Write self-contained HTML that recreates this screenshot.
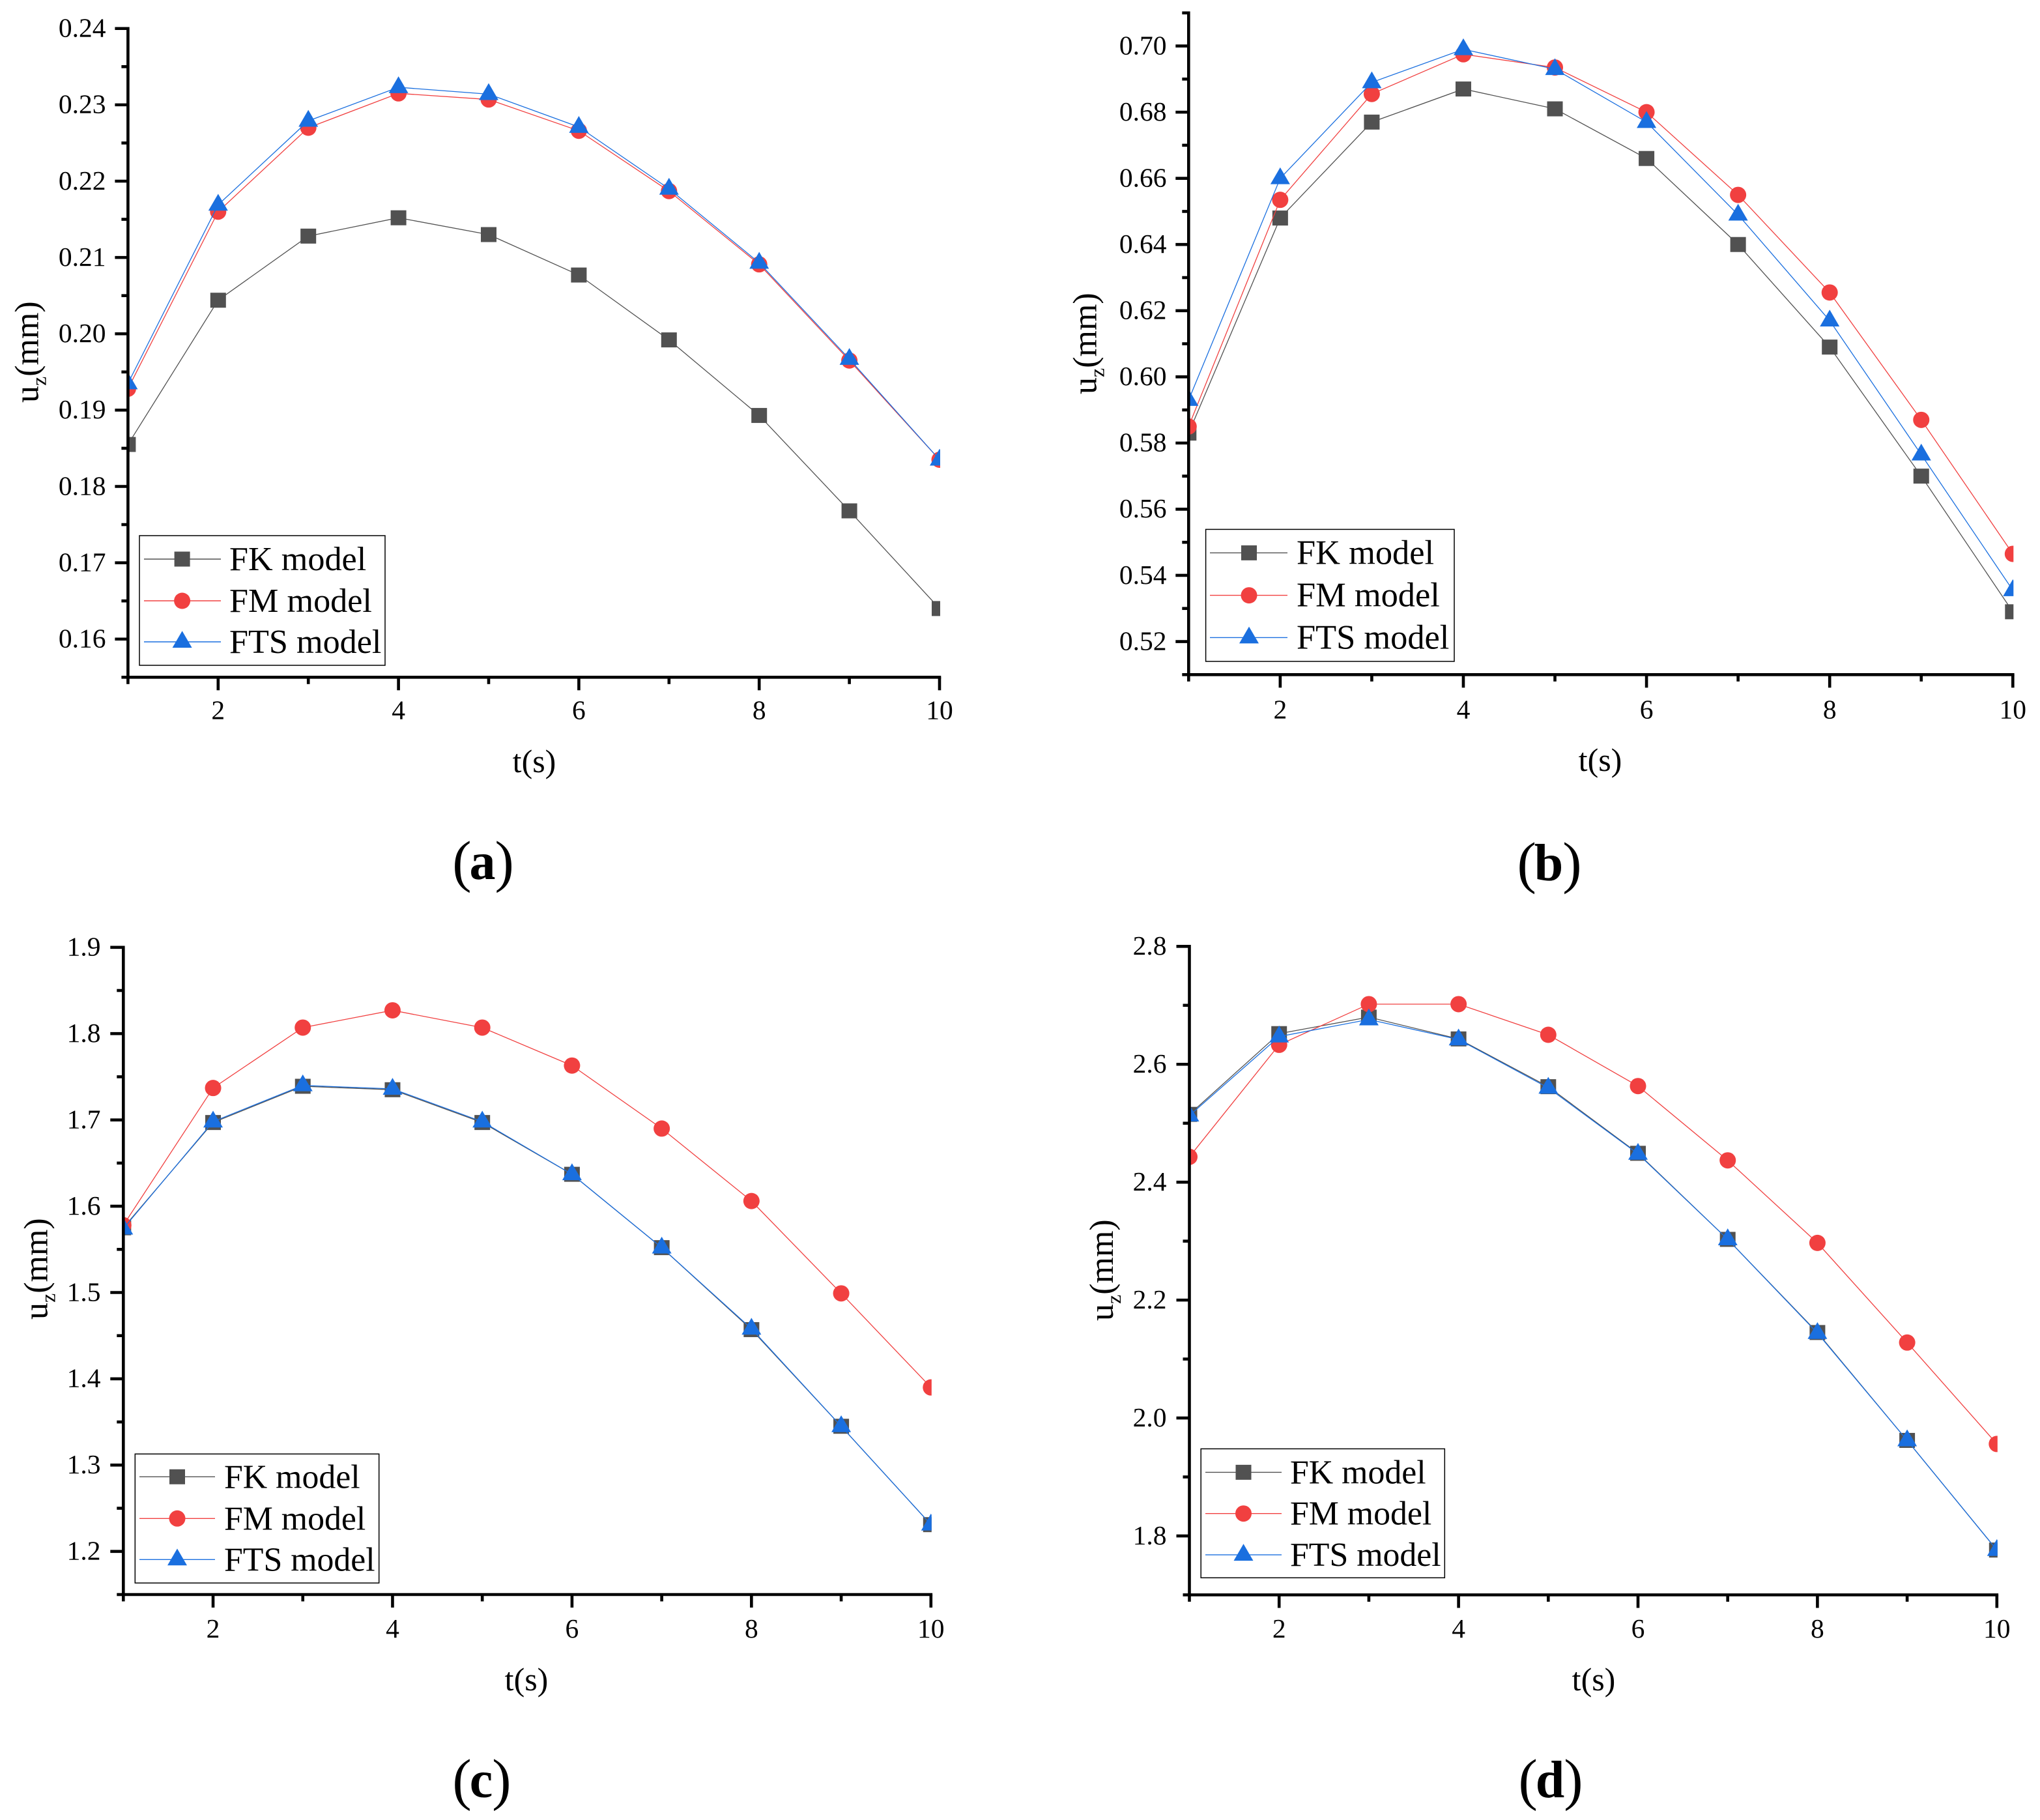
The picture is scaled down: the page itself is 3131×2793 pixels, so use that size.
<!DOCTYPE html>
<html lang="en">
<head>
<meta charset="utf-8">
<title>Displacement uz versus time, four panels</title>
<style>
html,body{margin:0;padding:0;background:#fff;}
#figure{display:block;width:3131px;height:2793px;}
text{font-family:"Liberation Serif","Times New Roman",serif;fill:#000;}
</style>
</head>
<body>
<svg id="figure" xmlns="http://www.w3.org/2000/svg" width="3131" height="2793" viewBox="0 0 3131 2793"></svg>
<script>
// ---- data ----
const tValues = [1, 2, 3, 4, 5, 6, 7, 8, 9, 10];
const xTickLabels = [2, 4, 6, 8, 10];

const aFK  = [0.1855, 0.2044, 0.2128, 0.2152, 0.2130, 0.2077, 0.1992, 0.1893, 0.1768, 0.1640];
const aFM  = [0.1928, 0.2160, 0.2270, 0.2315, 0.2307, 0.2266, 0.2187, 0.2091, 0.1965, 0.1835];
const aFTS = [0.1935, 0.2169, 0.2279, 0.2323, 0.2314, 0.2271, 0.2190, 0.2093, 0.1967, 0.1835];
const aYTicks = ['0.16', '0.17', '0.18', '0.19', '0.20', '0.21', '0.22', '0.23', '0.24'];

const bFK  = [0.583, 0.648, 0.677, 0.687, 0.681, 0.666, 0.640, 0.609, 0.570, 0.529];
const bFM  = [0.585, 0.6535, 0.6855, 0.6975, 0.6935, 0.680, 0.655, 0.6255, 0.587, 0.5465];
const bFTS = [0.593, 0.660, 0.689, 0.699, 0.693, 0.677, 0.649, 0.617, 0.5765, 0.5355];
const bYTicks = ['0.52', '0.54', '0.56', '0.58', '0.60', '0.62', '0.64', '0.66', '0.68', '0.70'];

const cFK  = [1.575, 1.697, 1.739, 1.735, 1.697, 1.637, 1.552, 1.457, 1.345, 1.231];
const cFM  = [1.578, 1.737, 1.807, 1.827, 1.807, 1.763, 1.690, 1.606, 1.499, 1.390];
const cFTS = [1.574, 1.698, 1.740, 1.736, 1.698, 1.637, 1.552, 1.458, 1.345, 1.231];
const cYTicks = ['1.2', '1.3', '1.4', '1.5', '1.6', '1.7', '1.8', '1.9'];

const dFK  = [2.515, 2.652, 2.680, 2.643, 2.562, 2.449, 2.303, 2.145, 1.962, 1.776];
const dFM  = [2.443, 2.633, 2.702, 2.702, 2.650, 2.563, 2.437, 2.297, 2.128, 1.956];
const dFTS = [2.513, 2.647, 2.676, 2.642, 2.560, 2.448, 2.303, 2.144, 1.962, 1.776];
const dYTicks = ['1.8', '2.0', '2.2', '2.4', '2.6', '2.8'];

const seriesNames = ['FK model', 'FM model', 'FTS model'];

// ---- layout ----
const SVGNS = 'http://www.w3.org/2000/svg';
const root = document.getElementById('figure');
const COLORS = ['#515151', '#F14040', '#1A6FDF'];
const KEYS = ['fk', 'fm', 'fts'];

const panels = [
  {id:'a', fk:aFK, fm:aFM, fts:aFTS, yTicks:aYTicks, yMin:0.155, yMax:0.24,
   left:196.4, right:1442, top:43.75, bottom:1039.3,
   tickEnd:162.5, xBase:1103.5, tCenter:820, tBase:1185, yTitleX:58.7, yTitleY:618,
   capCenter:741.5, capBase:1349,
   lg:{x0:214, x1:591, y0:822, y1:1021, lineA:221, lineB:339, mark:279.6, text:352, size:52.2, rows:[858,922,985]}},
  {id:'b', fk:bFK, fm:bFM, fts:bFTS, yTicks:bYTicks, yMin:0.51, yMax:0.71,
   left:1824.3, right:3089.3, top:19.8, bottom:1035.3,
   tickEnd:1790.5, xBase:1102.7, tCenter:2456, tBase:1183, yTitleX:1682.5, yTitleY:605,
   capCenter:2378, capBase:1351,
   lg:{x0:1850.6, x1:2232, y0:812.4, y1:1015, lineA:1857, lineB:1976, mark:1917, text:1990, size:52.4, rows:[848.4,913.6,978.4]}},
  {id:'c', fk:cFK, fm:cFM, fts:cFTS, yTicks:cYTicks, yMin:1.15, yMax:1.9,
   left:189.3, right:1428.8, top:1453.8, bottom:2447,
   tickEnd:154.5, xBase:2513, tCenter:808, tBase:2594, yTitleX:72.4, yTitleY:2025,
   capCenter:739.5, capBase:2758,
   lg:{x0:207.3, x1:581.7, y0:2231.3, y1:2429.3, lineA:214, lineB:330, mark:272, text:344, size:51.8, rows:[2266.3,2330.3,2393.3]}},
  {id:'d', fk:dFK, fm:dFM, fts:dFTS, yTicks:dYTicks, yMin:1.7, yMax:2.8,
   left:1825.5, right:3064.8, top:1452.3, bottom:2447.5,
   tickEnd:1790.5, xBase:2513, tCenter:2446, tBase:2594, yTitleX:1707.8, yTitleY:2027,
   capCenter:2380, capBase:2758,
   lg:{x0:1843.2, x1:2217.3, y0:2223.4, y1:2421.3, lineA:1850, lineB:1967, mark:1908.5, text:1980, size:51.8, rows:[2259.4,2322.7,2386.1]}}
];

function mk(tag, attrs, parent, txt) {
  const n = document.createElementNS(SVGNS, tag);
  for (const k in attrs) n.setAttribute(k, attrs[k]);
  if (txt !== undefined) n.textContent = txt;
  parent.appendChild(n);
  return n;
}

function drawMarker(parent, kind, cx, cy) {
  const fill = COLORS[kind];
  if (kind === 0) {
    return mk('rect', {x: cx - 12, y: cy - 11.5, width: 24, height: 23, fill: fill}, parent);
  }
  if (kind === 1) {
    return mk('circle', {cx: cx, cy: cy, r: 12.5, fill: fill}, parent);
  }
  const pts = [cx + ',' + (cy - 16.8), (cx + 15) + ',' + (cy + 9), (cx - 15) + ',' + (cy + 9)].join(' ');
  return mk('polygon', {points: pts, fill: fill}, parent);
}

panels.forEach(function (p) {
  const xScale = function (t) { return p.left + (t - 1) / 9 * (p.right - p.left); };
  const yScale = function (v) { return p.bottom - (v - p.yMin) / (p.yMax - p.yMin) * (p.bottom - p.top); };

  const g = mk('g', {}, root);
  
  

  const clip = mk('clipPath', {id: 'plot-clip-' + p.id}, g);
  mk('rect', {x: p.left, y: p.top - 30, width: p.right - p.left + 1, height: p.bottom - p.top + 30}, clip);

  const plot = mk('g', {'clip-path': 'url(#plot-clip-' + p.id + ')'}, g);
  
  

  KEYS.forEach(function (key, k) {
    const values = p[key];
    const sg = mk('g', {}, plot);
    
    
    const d = values.map(function (v, i) { return xScale(tValues[i]) + ',' + yScale(v); }).join(' ');
    const line = mk('polyline', {points: d, fill: 'none', stroke: COLORS[k], 'stroke-width': 1.3}, sg);
    
    
    values.forEach(function (v, i) {
      const m = drawMarker(sg, k, xScale(tValues[i]), yScale(v));
      
      
    });
  });

  // axes
  const axes = mk('g', {stroke: '#000', 'stroke-width': 4.6, fill: 'none'}, g);
  
  
  const yAxis = mk('line', {x1: p.left, x2: p.left, y1: p.top - 2.3, y2: p.bottom + 2.3}, axes);
  
  
  const xAxis = mk('line', {x1: p.left - 2.3, x2: p.right + 2.3, y1: p.bottom, y2: p.bottom}, axes);
  
  

  // y ticks
  const yNums = p.yTicks.map(Number);
  const yStep = yNums[1] - yNums[0];
  p.yTicks.forEach(function (lab, i) {
    const y = yScale(yNums[i]);
    const t = mk('line', {x1: p.left - 20, x2: p.left, y1: y, y2: y}, axes);
    
    
    const txt = mk('text', {x: p.tickEnd, y: y + 12.8, 'text-anchor': 'end', 'font-size': 41.5}, g, lab);
    
    
    const my = yScale(yNums[i] - yStep / 2);
    const mt = mk('line', {x1: p.left - 10, x2: p.left, y1: my, y2: my}, axes);
    
    
  });
  const lastMinor = yNums[yNums.length - 1] + yStep / 2;
  if (lastMinor <= p.yMax + 1e-9) {
    const ty = yScale(lastMinor);
    const tm = mk('line', {x1: p.left - 10, x2: p.left, y1: ty, y2: ty}, axes);
    
    
  }

  // x ticks
  tValues.forEach(function (t) {
    const major = xTickLabels.indexOf(t) >= 0;
    const x = xScale(t);
    const tk = mk('line', {x1: x, x2: x, y1: p.bottom, y2: p.bottom + (major ? 20 : 10.5)}, axes);
    
    
    if (major) {
      const lb = mk('text', {x: x, y: p.xBase, 'text-anchor': 'middle', 'font-size': 41.5}, g, String(t));
      
      
    }
  });

  // axis titles
  const xTitle = mk('text', {x: p.tCenter, y: p.tBase, 'text-anchor': 'middle', 'font-size': 50}, g, 't(s)');
  
  

  const yTitle = mk('text', {transform: 'translate(' + p.yTitleX + ',' + p.yTitleY + ') rotate(-90)', 'font-size': 52}, g);
  
  
  mk('tspan', {}, yTitle, 'u');
  mk('tspan', {'font-size': 32, dy: 12}, yTitle, 'z');
  mk('tspan', {dy: -12}, yTitle, '(mm)');

  // legend
  const L = p.lg;
  const lg = mk('g', {}, g);
  
  
  const box = mk('rect', {x: L.x0, y: L.y0, width: L.x1 - L.x0, height: L.y1 - L.y0, fill: '#fff', stroke: '#000', 'stroke-width': 1.5}, lg);
  
  
  seriesNames.forEach(function (name, k) {
    const row = L.rows[k];
    const entry = mk('g', {}, lg);
    
    
    mk('line', {x1: L.lineA, x2: L.lineB, y1: row, y2: row, stroke: COLORS[k], 'stroke-width': 1.4}, entry);
    drawMarker(entry, k, L.mark, row);
    mk('text', {x: L.text, y: row + 17, 'font-size': L.size}, entry, name);
  });

  // caption: regular tall parentheses around a bold letter
  const cap = mk('text', {x: p.capCenter, y: p.capBase, 'text-anchor': 'middle', 'font-size': 88}, g);
  
  
  mk('tspan', {dy: 2.5}, cap, '(');
  mk('tspan', {'font-weight': 'bold', 'font-size': 80, dx: -3, dy: -2.5}, cap, p.id);
  mk('tspan', {dx: -1, dy: 2.5}, cap, ')');
});
</script>
</body>
</html>
